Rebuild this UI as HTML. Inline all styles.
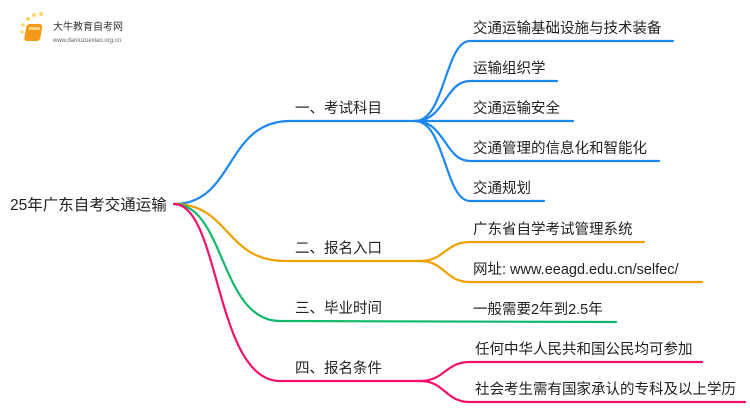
<!DOCTYPE html>
<html><head><meta charset="utf-8"><style>
html,body{margin:0;padding:0;background:#fff;width:750px;height:410px;overflow:hidden}
text{font-family:"Liberation Sans","Noto Sans CJK SC",sans-serif;font-size:14.5px;fill:#222}
</style></head><body>
<svg width="750" height="410" xmlns="http://www.w3.org/2000/svg">
<g fill="none" stroke-width="2.2" stroke-linecap="round">
<g stroke="#1e88f0">
<path d="M174,204 C235,204 225,121 290,121 L415,121"/>
<path d="M415,121 C445,121 445,41 470,41 L673,41"/>
<path d="M415,121 C445,121 445,81 470,81 L557,81"/>
<path d="M415,121 L573,121"/>
<path d="M415,121 C445,121 445,161 470,161 L659,161"/>
<path d="M415,121 C445,121 445,201 470,201 L544,201"/>
</g>
<g stroke="#f0a000">
<path d="M174,204 C230,204 225,261 285,261 L420,261"/>
<path d="M420,261 C445,261 445,242 470,242 L644,242"/>
<path d="M420,261 C445,261 445,282 470,282 L702,282"/>
</g>
<g stroke="#12b86a">
<path d="M174,204 C225,204 220,321 280,321 L616,322"/>
</g>
<g stroke="#f0136e">
<path d="M174,204 C220,204 215,381 280,381 L420,381"/>
<path d="M420,381 C445,381 445,362 470,362 L702,362"/>
<path d="M420,381 C445,381 445,402 470,402 L745,402"/>
</g>
</g>
<text x="10" y="210" style="font-size:15.5px">25年广东自考交通运输</text>
<text x="295" y="113">一、考试科目</text>
<text x="295" y="253">二、报名入口</text>
<text x="295" y="313">三、毕业时间</text>
<text x="295" y="373">四、报名条件</text>
<text x="473" y="33">交通运输基础设施与技术装备</text>
<text x="473" y="73">运输组织学</text>
<text x="473" y="113">交通运输安全</text>
<text x="473" y="153">交通管理的信息化和智能化</text>
<text x="473" y="193">交通规划</text>
<text x="473" y="234">广东省自学考试管理系统</text>
<text x="473" y="274">网址: www.eeagd.edu.cn/selfec/</text>
<text x="473" y="314">一般需要2年到2.5年</text>
<text x="475" y="354">任何中华人民共和国公民均可参加</text>
<text x="475" y="394">社会考生需有国家承认的专科及以上学历</text>
<g>
<circle cx="22" cy="32" r="1.6" fill="#fcd56a"/><circle cx="23" cy="25" r="1.8" fill="#fcd56a"/>
<circle cx="28" cy="19" r="2" fill="#fcd56a"/><circle cx="34" cy="15" r="2" fill="#fcd56a"/>
<circle cx="41" cy="14" r="2" fill="#fcd56a"/>
<rect x="31" y="24" width="16" height="17" rx="3" fill="#f39a1a" transform="skewX(-10)"/>
<rect x="34" y="27" width="11" height="3" fill="#ffd27a" transform="skewX(-10)"/>
<text x="53" y="30" style="font-size:10px;fill:#333">大牛教育自考网</text>
<text x="53" y="42" style="font-size:6px;fill:#666">www.daniuzuexiao.org.cn</text>
</g>
</svg>
</body></html>
